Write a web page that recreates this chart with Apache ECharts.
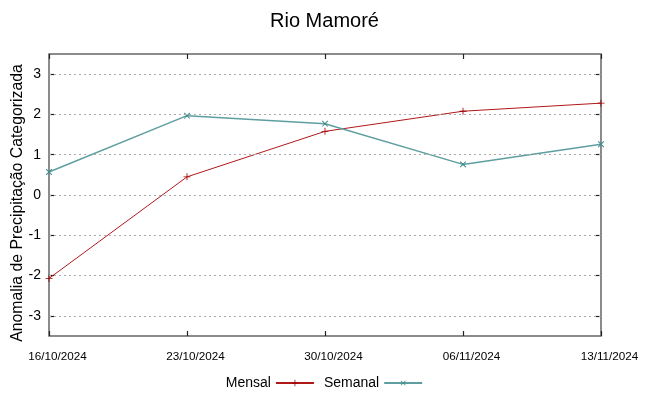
<!DOCTYPE html>
<html><head><meta charset="utf-8">
<script src="https://cdn.jsdelivr.net/npm/echarts@6/dist/echarts.min.js"></script>
<style>html,body{margin:0;padding:0;background:#fff}#c{width:649px;height:396px}</style>
</head><body><div id="c"></div>
<script>
const categories = ['16/10/2024','23/10/2024','30/10/2024','06/11/2024','13/11/2024'];
const mensal = [-2.07, 0.45, 1.58, 2.08, 2.28];
const semanal = [0.57, 1.97, 1.77, 0.76, 1.26];
const yTicks = [-3,-2,-1,0,1,2,3];
const yName = 'Anomalia de Precipitação Categorizada';

const plusPath = 'path://M0,4.4H10V5.6H0Z M4.4,0H5.6V10H4.4Z';
const font = 'Liberation Sans, Arial, sans-serif';
const chart = echarts.init(document.getElementById('c'));
const tickStyle = {color:'#222',width:1.2};
chart.setOption({
  animation:false,
  title:{text:'Rio Mamoré',left:'center',top:6,textStyle:{fontFamily:font,fontSize:20,fontWeight:'normal',color:'#000'}},
  grid:{left:49,right:48,top:54,bottom:60,show:true,borderColor:'#666',borderWidth:1.5,
    containLabel:false,outerBoundsMode:'none'},
  legend:{bottom:1,left:'center',align:'right',itemWidth:38,itemHeight:8,itemGap:9,
    textStyle:{fontFamily:font,fontSize:14,color:'#000'},
    data:['Mensal','Semanal']},
  xAxis:[{type:'category',data:categories,boundaryGap:false,
    axisLine:{show:false,onZero:false},axisTick:{inside:true,length:5,lineStyle:tickStyle},
    axisLabel:{fontFamily:font,fontSize:11.7,color:'#000',margin:15,padding:[0,0,0,17]}},
    {type:'category',data:categories,boundaryGap:false,position:'top',
    axisLine:{show:false,onZero:false},axisTick:{inside:true,length:5,lineStyle:tickStyle},axisLabel:{show:false}}],
  yAxis:[{type:'value',min:-3.5,max:3.5,interval:0.5,
    name:yName,nameLocation:'middle',nameGap:23,nameMoveOverlap:false,
    nameTextStyle:{fontFamily:font,fontSize:15.8,color:'#000',padding:[0,16,0,0]},
    axisLine:{show:false},
    axisTick:{show:true,inside:true,length:5,customValues:yTicks,lineStyle:tickStyle},
    axisLabel:{fontFamily:font,fontSize:14,color:'#000',margin:8,customValues:yTicks},
    splitLine:{show:false}},
    {type:'value',min:-3.5,max:3.5,interval:0.5,position:'right',
    axisLine:{show:false},
    axisTick:{show:true,inside:true,length:5,customValues:yTicks,lineStyle:tickStyle},
    axisLabel:{show:false},splitLine:{show:false}}],
  series:[
    {name:'Mensal',type:'line',data:mensal,symbol:plusPath,symbolSize:7,z:3,
      lineStyle:{color:'#b01818',width:1},itemStyle:{color:'#a00000'},
      markLine:{silent:true,symbol:'none',label:{show:false},
        lineStyle:{color:'#aaa',type:[2,3],width:1},
        data:yTicks.map(v=>({yAxis:v}))}},
    {name:'Semanal',type:'line',data:semanal,symbol:plusPath,symbolSize:8,symbolRotate:45,z:3,
      lineStyle:{color:'#5f9ea0',width:1.5},itemStyle:{color:'#3a8a8a'}}
  ]
});
</script></body></html>
